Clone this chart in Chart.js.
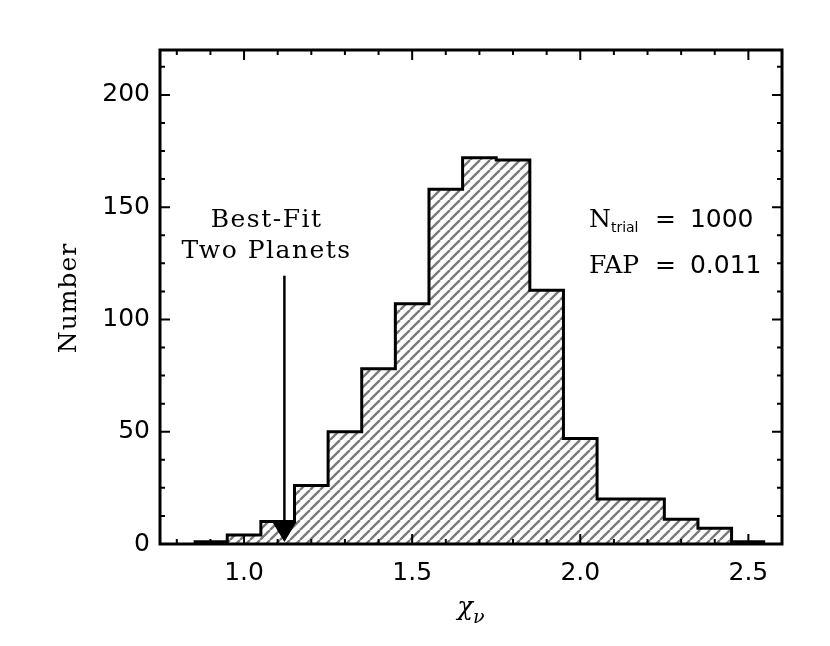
<!DOCTYPE html>
<html>
<head>
<meta charset="utf-8">
<title>Chi-square histogram</title>
<script src="https://cdn.jsdelivr.net/npm/chart.js@4.4.1/dist/chart.umd.min.js"></script>
<style>
    html, body { margin: 0; padding: 0; background: #fff; }
    #chart { display: block; }
</style>
</head>
<body>
<canvas id="chart" width="830" height="646"></canvas>
<script>
// DATA
const binCenters = [0.9, 1.0, 1.1, 1.2, 1.3, 1.4, 1.5, 1.6, 1.7, 1.8, 1.9, 2.0, 2.1, 2.2, 2.3, 2.4, 2.5];
const binCounts  = [1, 4, 10, 26, 50, 78, 107, 158, 172, 171, 113, 47, 20, 20, 11, 7, 1];
const binWidth = 0.1;

const xTicks = [1.0, 1.5, 2.0, 2.5];
const yTicks = [0, 50, 100, 150, 200];

const bestFitChi = 1.12;
const bestFitLabel = ['Best-Fit', 'Two Planets'];
const nTrial = '1000';
const fap = '0.011';

const SANS = '"DejaVu Sans", sans-serif';
const SERIF = '"DejaVu Serif", serif';

// step outline: left edge of every bin, plus right edge of the last one
const stepPoints = binCenters.map((c, i) => ({ x: c - binWidth / 2, y: binCounts[i] }));
stepPoints.push({ x: binCenters[binCenters.length - 1] + binWidth / 2, y: binCounts[binCounts.length - 1] });

function makeHatch() {
    const size = 10;
    const c = document.createElement('canvas');
    c.width = size;
    c.height = size;
    const g = c.getContext('2d');
    g.strokeStyle = '#7a7a7a';
    g.lineWidth = 2.4;
    g.beginPath();
    for (const k of [-size, 0, size]) {
        g.moveTo(k, size);
        g.lineTo(k + size, 0);
    }
    g.stroke();
    return g.createPattern(c, 'repeat');
}

function spacedText(ctx, text, px, py, spacing) {
    ctx.letterSpacing = spacing + 'px';
    ctx.fillText(text, px, py);
    ctx.letterSpacing = '0px';
}

// FRAME, TICKS, ARROW, TEXT
const idlAxes = {
    id: 'idlAxes',
    afterDatasetsDraw(chart) {
        const { ctx, chartArea: a, scales: { x, y } } = chart;
        ctx.save();
        ctx.strokeStyle = '#000';
        ctx.fillStyle = '#000';

        // arrow
        const ax = x.getPixelForValue(bestFitChi);
        const base = y.getPixelForValue(0);
        ctx.lineWidth = 2.5;
        ctx.beginPath();
        ctx.moveTo(ax, y.getPixelForValue(119.5));
        ctx.lineTo(ax, base - 21);
        ctx.stroke();
        ctx.beginPath();
        ctx.moveTo(ax - 12, base - 22);
        ctx.lineTo(ax + 12, base - 22);
        ctx.lineTo(ax, base - 2);
        ctx.closePath();
        ctx.fill();

        // inward ticks on all four sides
        ctx.lineWidth = 2;
        ctx.beginPath();
        for (let i = 8; i <= 26; i++) {
            const px = x.getPixelForValue(i / 10);
            const len = i % 5 === 0 ? 10 : 5;
            ctx.moveTo(px, a.bottom);
            ctx.lineTo(px, a.bottom - len);
            ctx.moveTo(px, a.top);
            ctx.lineTo(px, a.top + len);
        }
        for (let i = 1; i * 12.5 < 220; i++) {
            const py = y.getPixelForValue(i * 12.5);
            const len = i % 4 === 0 ? 10 : 5;
            ctx.moveTo(a.left, py);
            ctx.lineTo(a.left + len, py);
            ctx.moveTo(a.right, py);
            ctx.lineTo(a.right - len, py);
        }
        ctx.stroke();

        ctx.lineWidth = 3;
        ctx.strokeRect(a.left, a.top, a.right - a.left, a.bottom - a.top);

        // best-fit label
        ctx.textAlign = 'center';
        ctx.textBaseline = 'alphabetic';
        ctx.font = '25px ' + SERIF;
        spacedText(ctx, bestFitLabel[0], x.getPixelForValue(1.067), y.getPixelForValue(141.3), 1.5);
        spacedText(ctx, bestFitLabel[1], x.getPixelForValue(1.067), y.getPixelForValue(127.2), 1.5);

        // N_trial and FAP
        ctx.textAlign = 'left';
        const lx = x.getPixelForValue(2.026);
        const eqx = x.getPixelForValue(2.222);
        const vx = x.getPixelForValue(2.326);
        const row1 = y.getPixelForValue(141.0);
        const row2 = y.getPixelForValue(120.8);
        ctx.font = '25px ' + SERIF;
        ctx.fillText('N', lx, row1);
        ctx.fillText('FAP', lx, row2);
        const nw = ctx.measureText('N').width;
        ctx.font = '14px ' + SANS;
        ctx.fillText('trial', lx + nw, row1 + 5);
        ctx.font = '25px ' + SANS;
        ctx.fillText('=', eqx, row1);
        ctx.fillText('=', eqx, row2);
        ctx.fillText(nTrial, vx, row1);
        ctx.fillText(fap, vx, row2);

        // axis titles
        ctx.font = 'italic 26px ' + SERIF;
        const chiW = ctx.measureText('χ').width;
        ctx.font = 'italic 19px ' + SERIF;
        const nuW = ctx.measureText('ν').width;
        const cx = (a.left + a.right) / 2 - (chiW + nuW) / 2;
        ctx.font = 'italic 26px ' + SERIF;
        ctx.fillText('χ', cx, a.bottom + 71);
        ctx.font = 'italic 19px ' + SERIF;
        ctx.fillText('ν', cx + chiW, a.bottom + 79);

        ctx.translate(69, (a.top + a.bottom) / 2 + 1);
        ctx.rotate(-Math.PI / 2);
        ctx.textAlign = 'center';
        ctx.textBaseline = 'middle';
        ctx.font = '25px ' + SERIF;
        spacedText(ctx, 'Number', 0, 0, 1);

        ctx.restore();
    }
};

const chart = new Chart(document.getElementById('chart'), {
    type: 'line',
    data: {
        datasets: [{
            data: stepPoints,
            stepped: 'before',
            borderColor: '#000',
            borderWidth: 3,
            pointRadius: 0,
            fill: 'origin',
            backgroundColor: makeHatch(),
        }]
    },
    options: {
        responsive: false,
        animation: false,
        layout: { padding: { top: 50, right: 48, left: 0, bottom: 0 } },
        plugins: {
            legend: { display: false },
            tooltip: { enabled: false },
        },
        scales: {
            x: {
                type: 'linear',
                min: 0.75,
                max: 2.6,
                grid: { display: false },
                border: { display: false },
                afterBuildTicks: (scale) => { scale.ticks = xTicks.map(v => ({ value: v })); },
                afterFit: (scale) => { scale.height = 102; },
                ticks: {
                    padding: 6,
                    maxRotation: 0,
                    color: '#000',
                    font: { family: SANS, size: 25 },
                    callback: (v) => v.toFixed(1),
                },
            },
            y: {
                min: 0,
                max: 220,
                grid: { display: false },
                border: { display: false },
                afterBuildTicks: (scale) => { scale.ticks = yTicks.map(v => ({ value: v })); },
                afterFit: (scale) => { scale.width = 160; },
                ticks: {
                    padding: 2,
                    color: '#000',
                    font: { family: SANS, size: 25 },
                    callback: (v) => String(v),
                },
            },
        },
    },
    plugins: [idlAxes],
});
</script>
</body>
</html>
